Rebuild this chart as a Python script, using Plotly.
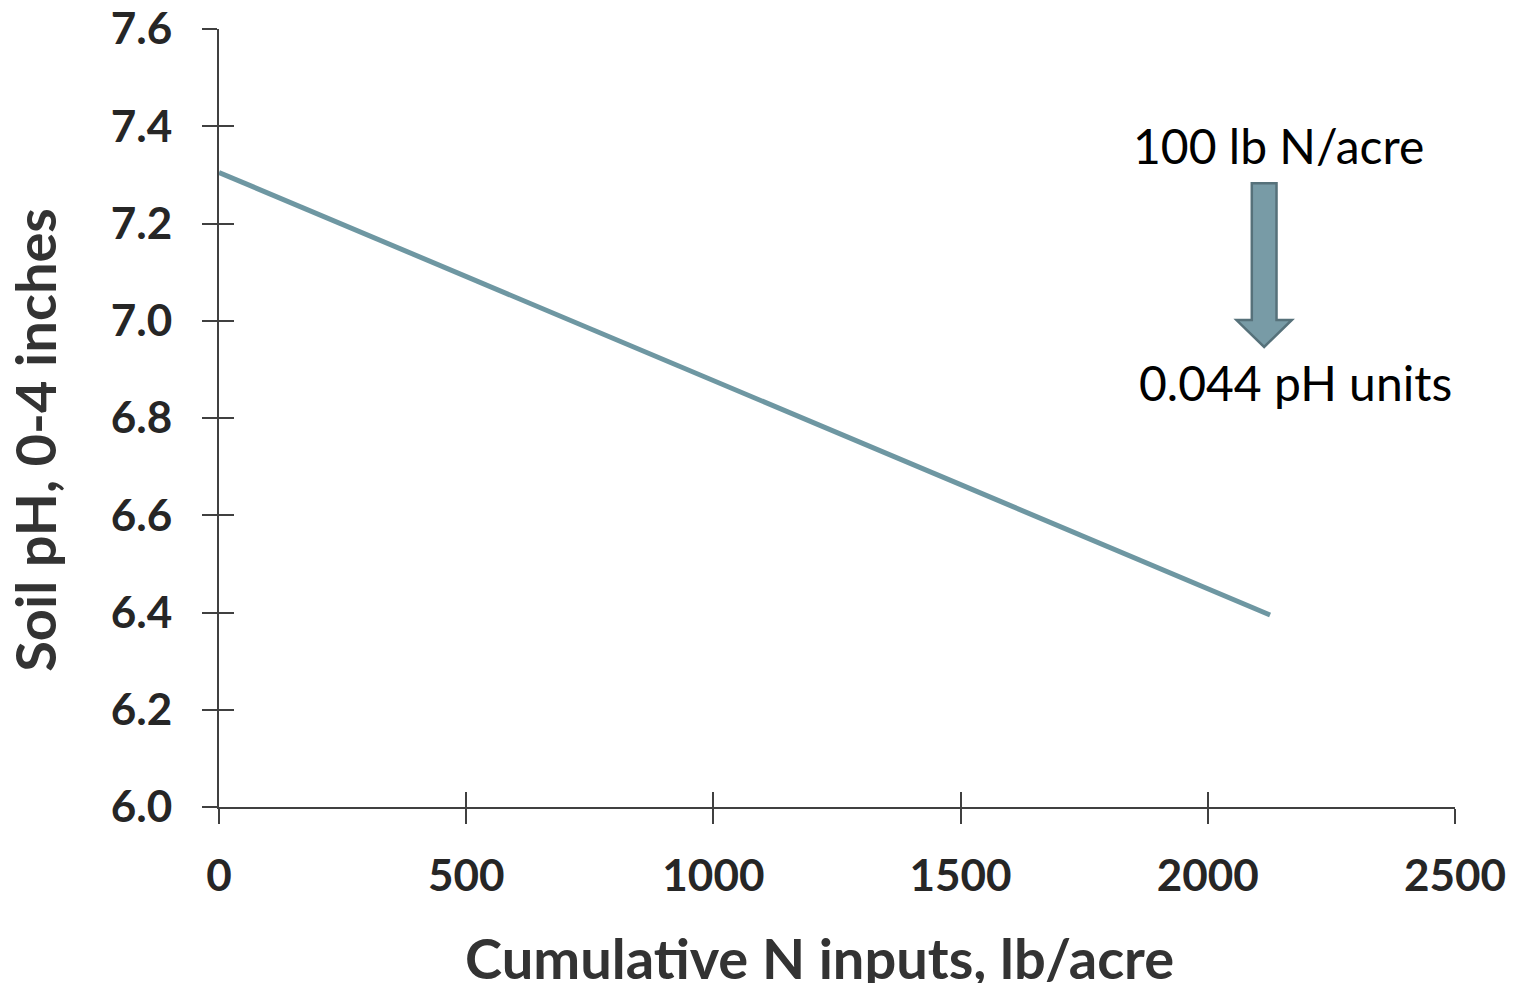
import plotly.graph_objects as go

# Data
n_inputs = [0, 2126]          # cumulative N inputs, lb/acre
soil_ph = [7.305, 6.395]      # soil pH, 0-4 inches
x_ticks = [0, 500, 1000, 1500, 2000, 2500]
y_ticks = [6.0, 6.2, 6.4, 6.6, 6.8, 7.0, 7.2, 7.4, 7.6]
y_tick_labels = ["6.0", "6.2", "6.4", "6.6", "6.8", "7.0", "7.2", "7.4", "7.6"]
x_title = "Cumulative N inputs, lb/acre"
y_title = "Soil pH, 0-4 inches"
label_top = "100 lb N/acre"
label_bottom = "0.044 pH units"

# Arrow (data coordinates)
arrow_x = 2114
arrow_top, arrow_shoulder, arrow_tip = 7.283, 7.0015, 6.946
body_half, head_half = 25, 56

AX = "#404040"
FONT = "Lato, 'Open Sans', sans-serif"
TICK_FONT = dict(family=FONT, size=44, color="#262626")
TITLE_FONT = dict(family=FONT, size=56, color="#333333")

fig = go.Figure()
fig.add_trace(go.Scatter(x=n_inputs, y=soil_ph, mode="lines",
                         line=dict(color="#6e97a2", width=5),
                         showlegend=False, hoverinfo="skip", cliponaxis=False))
# empty trace to activate the overlay axes that draw the inner half of the ticks
fig.add_trace(go.Scatter(x=[None], y=[None], xaxis="x2", yaxis="y2", showlegend=False))

path = (f"M {arrow_x-body_half},{arrow_top} L {arrow_x+body_half},{arrow_top} "
        f"L {arrow_x+body_half},{arrow_shoulder} L {arrow_x+head_half},{arrow_shoulder} "
        f"L {arrow_x},{arrow_tip} L {arrow_x-head_half},{arrow_shoulder} "
        f"L {arrow_x-body_half},{arrow_shoulder} Z")
fig.add_shape(type="path", path=path, xref="x", yref="y",
              fillcolor="#789ba6", line=dict(color="#56717a", width=2.5))

fig.add_annotation(x=2144, y=7.361, xref="x", yref="y", text=label_top, showarrow=False,
                   font=dict(family=FONT, size=48, color="#000000"))
fig.add_annotation(x=2178, y=6.872, xref="x", yref="y", text=label_bottom, showarrow=False,
                   font=dict(family=FONT, size=48, color="#000000"))

# axis titles
fig.add_annotation(x=0.486, y=0, xref="paper", yref="paper", yshift=-150,
                   text=f"<b>{x_title}</b>", showarrow=False, font=TITLE_FONT,
                   xanchor="center", yanchor="middle")
fig.add_annotation(x=0, y=0.472, xref="paper", yref="paper", xshift=-184,
                   text=f"<b>{y_title}</b>", showarrow=False, font=TITLE_FONT, textangle=-90,
                   xanchor="center", yanchor="middle")

fig.update_layout(
    width=1498, height=975,
    margin=dict(l=211, r=51, t=21, b=176),
    paper_bgcolor="white", plot_bgcolor="white",
    xaxis=dict(range=[0, 2500], tickvals=x_ticks, ticktext=[f"<b>{t}</b>" for t in x_ticks],
               ticks="outside", ticklen=15, automargin=False, ticklabeloverflow="allow",
               tickwidth=2, tickcolor=AX, showline=True, linecolor=AX, linewidth=2,
               showgrid=False, zeroline=False, tickfont=TICK_FONT,
               ticklabelstandoff=14),
    yaxis=dict(range=[6.0, 7.6], tickvals=y_ticks, ticktext=[f"<b>{t}</b>" for t in y_tick_labels],
               ticks="outside", ticklen=15, automargin=False, ticklabeloverflow="allow",
               tickwidth=2, tickcolor=AX, showline=True, linecolor=AX, linewidth=2,
               showgrid=False, zeroline=False, tickfont=TICK_FONT,
               ticklabelstandoff=21),
    xaxis2=dict(overlaying="x", matches="x", anchor="y2", side="bottom", automargin=False,
                range=[0, 2500], tickvals=x_ticks, ticks="inside", ticklen=15,
                tickwidth=2, tickcolor=AX, showticklabels=False, showline=False,
                showgrid=False, zeroline=False),
    yaxis2=dict(overlaying="y", matches="y", anchor="x2", side="left", automargin=False,
                range=[6.0, 7.6], tickvals=y_ticks, ticks="inside", ticklen=15,
                tickwidth=2, tickcolor=AX, showticklabels=False, showline=False,
                showgrid=False, zeroline=False),
)

fig.write_html("out.html")
